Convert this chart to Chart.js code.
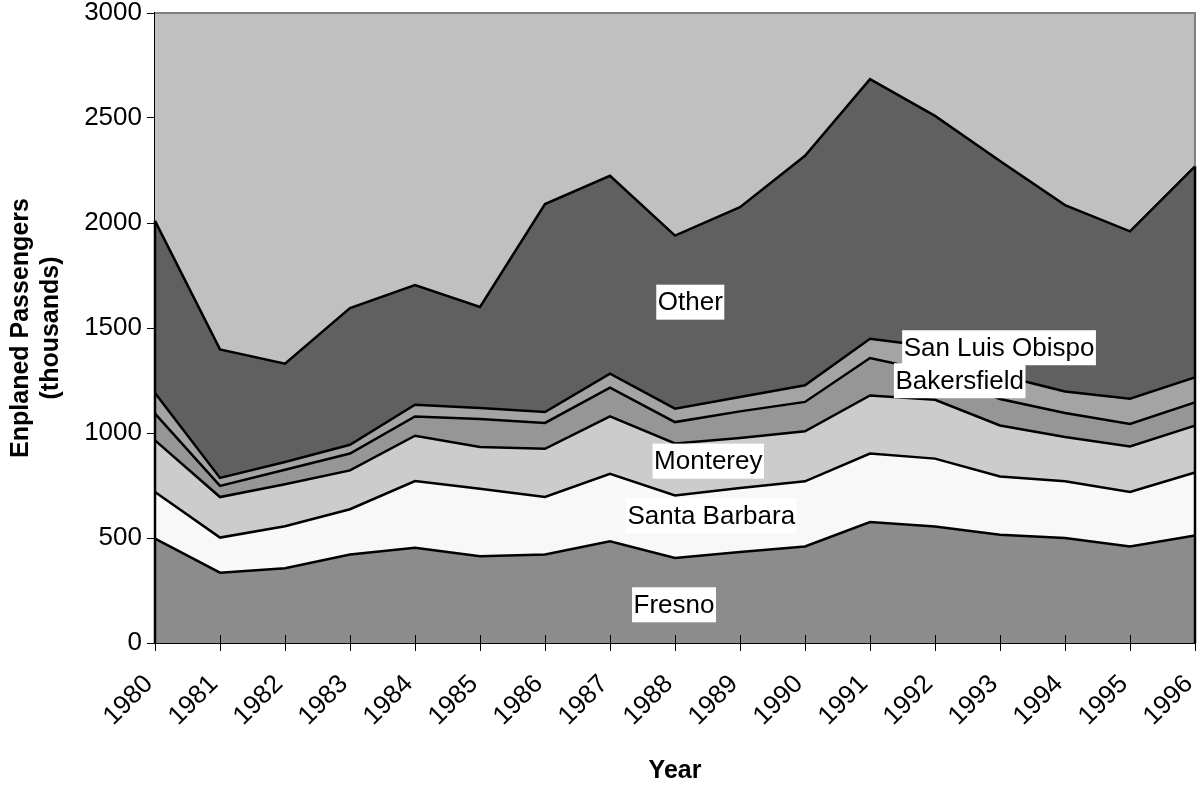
<!DOCTYPE html>
<html><head><meta charset="utf-8">
<script src="https://cdn.jsdelivr.net/npm/chart.js@4.4.0/dist/chart.umd.min.js"></script>
<style>html,body{margin:0;padding:0;background:#fff;}canvas{display:block;}</style>
</head><body>
<canvas id="c" width="1197" height="789"></canvas>
<script>
// ---- data (thousands of enplaned passengers) ----
const years = ['1980','1981','1982','1983','1984','1985','1986','1987','1988','1989','1990','1991','1992','1993','1994','1995','1996'];
const fresno        = [497,335,356,421,454,413,422,484,405,433,460,576,555,516,500,460,512];
const santaBarbara  = [222,167,200,216,317,322,273,322,298,305,310,326,323,277,270,259,300];
const monterey      = [246,193,200,185,216,198,230,273,247,238,238,277,280,243,211,217,223];
const bakersfield   = [127, 53, 69, 80, 92,134,123,137,102,127,140,178,132,126,114,107,111];
const sanLuisObispo = [ 98, 38, 37, 42, 56, 52, 52, 67, 64, 68, 79, 92,120,113,103,120,119];
const other         = [820,612,468,651,570,481,990,942,824,904,1093,1236,1100,1020,887,797,1005];
const yTickMin = 0, yTickMax = 3000, yTickStep = 500;

const seriesNames  = ['Fresno','Santa Barbara','Monterey','Bakersfield','San Luis Obispo','Other'];
const seriesData   = [fresno, santaBarbara, monterey, bakersfield, sanLuisObispo, other];
const seriesColors = ['#8c8c8c','#f8f8f8','#cccccc','#969696','#a4a4a4','#606060'];

// in-chart label anchors, in data coordinates (category index, value)
const labelAnchors = [
  {text:'Other',           xi:8.235,  v:1623},
  {text:'Monterey',        xi:8.512,  v:866},
  {text:'Santa Barbara',   xi:8.558,  v:606},
  {text:'Fresno',          xi:7.985,  v:182},
  {text:'San Luis Obispo', xi:12.985, v:1406},
  {text:'Bakersfield',     xi:12.38,  v:1249}
];

const FONT = 'Liberation Sans';

const framePlugin = {
  id: 'frame',
  beforeDatasetsDraw(chart) {
    const {ctx, chartArea: a} = chart;
    ctx.save();
    ctx.fillStyle = '#c0c0c0';
    ctx.fillRect(a.left, a.top, a.right - a.left, a.bottom - a.top);
    ctx.restore();
  },
  afterDatasetsDraw(chart) {
    const {ctx, chartArea: a, scales: {x, y}} = chart;
    ctx.save();
    ctx.strokeStyle = '#808080';
    ctx.lineWidth = 2;
    ctx.beginPath();
    ctx.moveTo(a.left, a.top); ctx.lineTo(a.right, a.top); ctx.lineTo(a.right, a.bottom);
    ctx.stroke();
    ctx.strokeStyle = '#000';
    ctx.lineWidth = 2.5;
    const n = years.length - 1;
    [0, n].forEach(i => {
      const tot = chart.data.datasets.reduce((s, d) => s + d.data[i], 0);
      const px = x.getPixelForValue(i);
      ctx.beginPath();
      ctx.moveTo(px, y.getPixelForValue(0));
      ctx.lineTo(px, y.getPixelForValue(tot));
      ctx.stroke();
    });
    ctx.lineWidth = 1;
    x.ticks.forEach((t, i) => {
      const px = Math.round(x.getPixelForTick(i)) + 0.5;
      ctx.beginPath();
      ctx.moveTo(px, a.bottom);
      ctx.lineTo(px, a.bottom - 8);
      ctx.stroke();
    });
    ctx.restore();
  },
  afterDraw(chart) {
    const {ctx, scales: {x, y}} = chart;
    ctx.save();
    ctx.font = '26px "' + FONT + '"';
    ctx.textBaseline = 'middle';
    ctx.textAlign = 'center';
    labelAnchors.forEach(l => {
      const cx = x.getPixelForValue(l.xi);
      const cy = y.getPixelForValue(l.v);
      const w = ctx.measureText(l.text).width + 3;
      const h = 35;
      ctx.fillStyle = '#fff';
      ctx.fillRect(cx - w / 2, cy - h / 2, w, h);
      ctx.fillStyle = '#000';
      ctx.fillText(l.text, cx, cy + 1);
    });
    ctx.restore();
  }
};

new Chart(document.getElementById('c'), {
  type: 'line',
  data: {
    labels: years,
    datasets: seriesData.map((d, i) => ({
      label: seriesNames[i],
      data: d,
      backgroundColor: seriesColors[i],
      borderColor: '#000',
      borderWidth: 2.5,
      pointRadius: 0,
      pointHoverRadius: 0,
      tension: 0,
      fill: i === 0 ? 'origin' : '-1'
    }))
  },
  options: {
    responsive: false,
    animation: false,
    events: [],
    layout: {padding: {top: 13, right: 2, left: 0, bottom: 0}},
    plugins: {legend: {display: false}, tooltip: {enabled: false}},
    scales: {
      x: {
        type: 'category',
        offset: false,
        z: 1,
        grid: {display: true, drawOnChartArea: false, offset: false, tickLength: 8, color: '#000', lineWidth: 1},
        border: {display: true, color: '#000', width: 2},
        ticks: {minRotation: 45, maxRotation: 45, autoSkip: false, color: '#000', padding: 18, labelOffset: -6,
                font: {family: FONT, size: 26}},
        title: {display: true, text: 'Year', color: '#000', padding: {top: 0, bottom: 3},
                font: {family: FONT, size: 25, weight: 'bold'}},
        afterFit(s) { s.height = 146; s.paddingLeft = 0; s.paddingRight = 0; }
      },
      y: {
        stacked: true,
        min: yTickMin, max: yTickMax,
        z: 1,
        grid: {drawOnChartArea: false, tickLength: 8, color: '#000'},
        border: {display: true, color: '#000', width: 2},
        ticks: {stepSize: yTickStep, color: '#000', padding: 5, font: {family: FONT, size: 26, lineHeight: 1},
                callback: v => String(v)},
        title: {display: true, text: ['Enplaned Passengers', '(thousands)'], color: '#000', padding: {top: 6, bottom: 0},
                font: {family: FONT, size: 25, weight: 'bold', lineHeight: 1.2}},
        afterFit(s) { s.width = 155; s.paddingTop = 0; s.paddingBottom = 0; }
      }
    }
  },
  plugins: [framePlugin]
});
</script>
</body></html>
